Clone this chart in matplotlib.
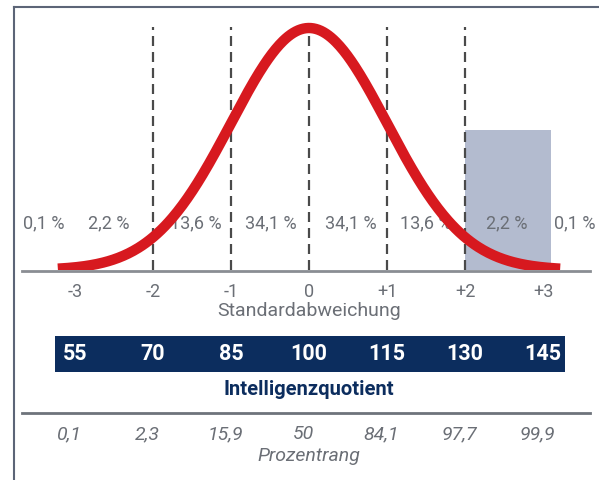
import numpy as np
import matplotlib.pyplot as plt
from matplotlib.lines import Line2D

plt.rcParams['font.family'] = ['Roboto', 'DejaVu Sans']

# data
sd_ticks = [-3, -2, -1, 0, 1, 2, 3]
sd_labels = ["-3", "-2", "-1", "0", "+1", "+2", "+3"]
dash_pos = [-2, -1, 0, 1, 2]
pct_pos = [-3.4, -2.57, -1.45, -0.49, 0.53, 1.5, 2.54, 3.41]
pct_labels = ["0,1 %", "2,2 %", "13,6 %", "34,1 %", "34,1 %", "13,6 %", "2,2 %", "0,1 %"]
iq_values = [55, 70, 85, 100, 115, 130, 145]
prozentrang = ["0,1", "2,3", "15,9", "50", "84,1", "97,7", "99,9"]

W, H = 599, 480
px0, px_per_sd = 309, 78  # pixel of sd=0, pixels per sd
xlim = (-px0 / px_per_sd, (W - px0) / px_per_sd)

fig = plt.figure(figsize=(W / 100, H / 100), dpi=100)

# upper part: curve, density units
base_px = 270
peak = 1 / np.sqrt(2 * np.pi)
dens_per_px = peak / 242
ax = fig.add_axes([0, (H - base_px) / H, 1, base_px / H])
ax.set_xlim(*xlim)
ax.set_ylim(0, base_px * dens_per_px)
ax.axis("off")

grau = "#6b6f76"
ax.bar(2 + 0.55, 140 * dens_per_px, width=1.1, color="#b3bbcf", zorder=1)
for d in dash_pos:
    ax.plot([d, d], [0, 243 * dens_per_px], color="#4a4a4a", lw=1.6,
            dashes=(4.5, 2.7), zorder=2)

x = np.linspace(-3.22, 3.22, 400)
ax.plot(x, peak * np.exp(-x ** 2 / 2), color="#d7191f", lw=7.5,
        solid_capstyle="butt", zorder=4)

for p, t in zip(pct_pos, pct_labels):
    ax.text(p, 47 * dens_per_px, t, ha="center", va="center", fontsize=13,
            color=grau, zorder=3)

# lower part: pixel units
ax2 = fig.add_axes([0, 0, 1, (H - base_px) / H])
ax2.set_xlim(*xlim)
ax2.set_ylim(H, base_px)
ax2.axis("off")

ax2.plot([(22 - px0) / px_per_sd, (590 - px0) / px_per_sd], [base_px + 1, base_px + 1],
         color="#8a8d93", lw=2, clip_on=False)
for s, l in zip(sd_ticks, sd_labels):
    ax2.text(s, 292, l, ha="center", va="center", fontsize=13, color=grau)
ax2.text(0, 311, "Standardabweichung", ha="center", va="center", fontsize=14, color=grau)

ax2.fill_between([(55 - px0) / px_per_sd, (565 - px0) / px_per_sd], 336, 372,
                 color="#0c2d5e", lw=0)
for s, v in zip(sd_ticks, iq_values):
    ax2.text(s, 354, str(v), ha="center", va="center", fontsize=15.5,
             fontweight="bold", color="white")
ax2.text(0, 390, "Intelligenzquotient", ha="center", va="center", fontsize=14.5,
         fontweight="bold", color="#0c2d5e")

ax2.plot([(22 - px0) / px_per_sd, (590 - px0) / px_per_sd], [413, 413],
         color="#6e737b", lw=2)
for s, p in zip(sd_ticks, prozentrang):
    ax2.text(s - 0.07, 434, p, ha="center", va="center", fontsize=14,
             style="italic", color=grau)
ax2.text(0, 456, "Prozentrang", ha="center", va="center", fontsize=14,
         style="italic", color=grau)

# frame
fig.add_artist(Line2D([14 / W, 14 / W], [0, 1 - 7 / H], color="#5c6577", lw=1.5))
fig.add_artist(Line2D([14 / W, 1], [1 - 7 / H, 1 - 7 / H], color="#5c6577", lw=1.5))

fig.savefig("out.png", dpi=100)
